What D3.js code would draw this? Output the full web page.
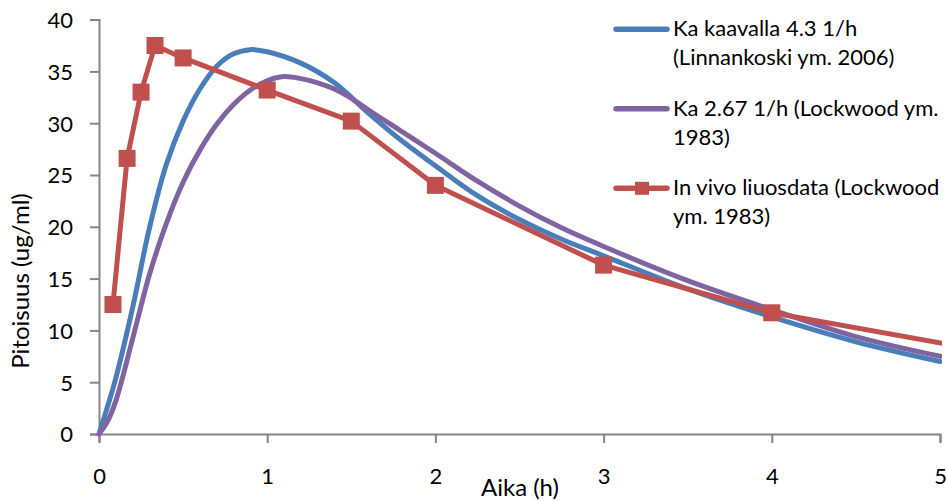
<!DOCTYPE html>
<html>
<head>
<meta charset="utf-8">
<script src="https://cdnjs.cloudflare.com/ajax/libs/d3/7.8.5/d3.min.js"></script>
<style>
    body { margin: 0; background: #fff; }
    text { font-family: Lato, "Open Sans", sans-serif; fill: #000; }
</style>
</head>
<body>
<div id="chart"></div>
<script>
var width = 947;
var height = 501;

// Ka kaavalla 4.3 1/h
var kaavallaTimes = [0, 0.05, 0.1, 0.2, 0.3, 0.4, 0.5, 0.6, 0.7, 0.8, 0.9, 1.0, 1.2, 1.4, 1.6, 1.8, 2.0, 2.25, 2.5, 2.75, 3.0, 3.5, 4.0, 4.5, 5.0];
var kaavallaValues = [0, 2.6, 5.4, 12.2, 19.9, 26.0, 30.2, 33.3, 35.5, 36.7, 37.1, 36.9, 35.8, 33.9, 31.0, 28.3, 25.9, 23.0, 20.7, 18.8, 17.2, 14.0, 11.3, 8.9, 7.0];

// Ka 2.67 1/h
var lockwoodTimes = [0, 0.05, 0.1, 0.2, 0.3, 0.4, 0.5, 0.6, 0.7, 0.8, 0.9, 1.0, 1.1, 1.2, 1.3, 1.4, 1.5, 1.6, 1.8, 2.0, 2.25, 2.5, 2.75, 3.0, 3.5, 4.0, 4.5, 5.0];
var lockwoodValues = [0, 1.2, 3.2, 9.2, 15.4, 20.3, 24.3, 27.4, 29.9, 31.8, 33.2, 34.1, 34.5, 34.3, 33.9, 33.3, 32.4, 31.3, 29.2, 27.1, 24.4, 22.0, 19.9, 18.1, 14.8, 12.0, 9.4, 7.5];

// in vivo data, last point lies past the axis end
var invivoTimes = [0.083, 0.167, 0.25, 0.333, 0.5, 1, 1.5, 2, 3, 4, 6];
var invivoValues = [12.5, 26.6, 33.0, 37.5, 36.3, 33.2, 30.2, 24.0, 16.3, 11.7, 5.9];

var xTicks = [0, 1, 2, 3, 4, 5];
var yTicks = [0, 5, 10, 15, 20, 25, 30, 35, 40];

var legendLabels = [
    ["Ka kaavalla 4.3 1/h", "(Linnankoski ym. 2006)"],
    ["Ka 2.67 1/h (Lockwood ym.", "1983)"],
    ["In vivo liuosdata (Lockwood", "ym. 1983)"]
];
var colors = ["#4a7ebb", "#8064a2", "#c0504d"];

var svg = d3.select("#chart").append("svg")
    .attr("width", width)
    .attr("height", height);

var x = d3.scaleLinear().domain([0, 5]).range([99, 940]);
var y = d3.scaleLinear().domain([0, 40]).range([434, 19.6]);

svg.append("defs").append("clipPath").attr("id", "plotClip")
    .append("rect").attr("x", 0).attr("y", 0).attr("width", 942).attr("height", height);

// axes
var yAxis = svg.append("g").attr("transform", "translate(99,0)")
    .call(d3.axisLeft(y).tickValues(yTicks).tickSize(9).tickPadding(17));
var xAxis = svg.append("g").attr("transform", "translate(0,434)")
    .call(d3.axisBottom(x).tickValues(xTicks).tickFormat(d3.format("d")).tickSize(9).tickPadding(0));

[yAxis, xAxis].forEach(ax => {
    ax.select(".domain").attr("stroke", "#868686").attr("stroke-width", 2);
    ax.selectAll(".tick line").attr("stroke", "#868686").attr("stroke-width", 2);
    ax.selectAll(".tick text").attr("font-size", 22).attr("font-family", "Lato");
});
yAxis.selectAll(".tick text").attr("dy", "0.36em");
xAxis.selectAll(".tick text").attr("y", 50).attr("dy", 0);

svg.append("text").attr("x", 520).attr("y", 496)
    .attr("text-anchor", "middle").attr("font-size", 24)
    .text("Aika (h)");
svg.append("text").attr("transform", "translate(29,281) rotate(-90)")
    .attr("text-anchor", "middle").attr("font-size", 24)
    .text("Pitoisuus (ug/ml)");

function toPoints(times, values) {
    return times.map((t, i) => [t, values[i]]);
}

var smooth = d3.line().x(d => x(d[0])).y(d => y(d[1])).curve(d3.curveCatmullRom.alpha(0.5));
var straight = d3.line().x(d => x(d[0])).y(d => y(d[1]));

var plot = svg.append("g").attr("clip-path", "url(#plotClip)");

plot.append("path").datum(toPoints(kaavallaTimes, kaavallaValues))
    .attr("d", smooth).attr("fill", "none").attr("stroke", colors[0])
    .attr("stroke-width", 5).attr("stroke-linecap", "round");
plot.append("path").datum(toPoints(lockwoodTimes, lockwoodValues))
    .attr("d", smooth).attr("fill", "none").attr("stroke", colors[1])
    .attr("stroke-width", 5).attr("stroke-linecap", "round");

var invivo = toPoints(invivoTimes, invivoValues);
plot.append("path").datum(invivo)
    .attr("d", straight).attr("fill", "none").attr("stroke", colors[2])
    .attr("stroke-width", 5).attr("stroke-linejoin", "round");
var markerSize = 17;
plot.selectAll("rect.marker").data(invivo).enter().append("rect")
    .attr("class", "marker")
    .attr("x", d => x(d[0]) - markerSize / 2)
    .attr("y", d => y(d[1]) - markerSize / 2)
    .attr("width", markerSize).attr("height", markerSize)
    .attr("fill", colors[2]);

// legend
var legend = svg.append("g");
legendLabels.forEach((lines, i) => {
    var ly = 29.3 + i * 79.5;
    legend.append("line").attr("x1", 616).attr("x2", 667).attr("y1", ly).attr("y2", ly)
        .attr("stroke", colors[i]).attr("stroke-width", 5.5).attr("stroke-linecap", "round");
    if (i == 2) {
        legend.append("rect").attr("x", 635).attr("y", ly - 6.5)
            .attr("width", 14).attr("height", 13).attr("fill", colors[i]);
    }
    lines.forEach((txt, j) => {
        legend.append("text").attr("x", 673).attr("y", ly + 7 + j * 29)
            .attr("font-size", 22).text(txt);
    });
});
</script>
</body>
</html>
